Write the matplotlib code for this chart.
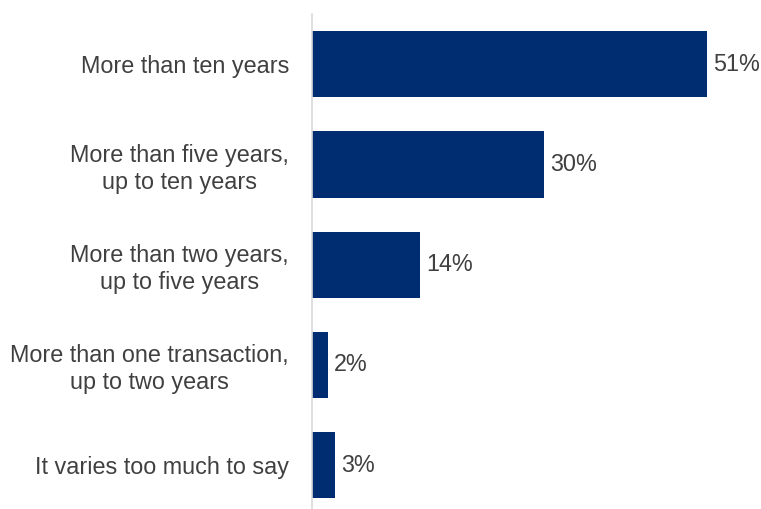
import matplotlib.pyplot as plt

plt.rcParams['font.family'] = ['Liberation Sans', 'DejaVu Sans']

categories = [
    'More than ten years',
    'More than five years,\nup to ten years',
    'More than two years,\nup to five years',
    'More than one transaction,\nup to two years',
    'It varies too much to say',
]
values = [51, 30, 14, 2, 3]

bar_color = '#002D72'
text_color = '#404040'

fig = plt.figure(figsize=(7.61, 5.09), dpi=100)
ax = fig.add_axes([0.41, -0.012, 0.57, 0.984])

ypos = list(range(len(categories)))
ax.barh(ypos, values, height=0.66, color=bar_color, zorder=2)

for y, v in zip(ypos, values):
    ax.text(v + 0.8, y, f'{v}%', va='center', ha='left',
            fontsize=16.8, color=text_color)

ax.set_xlim(0, 56)
ax.set_ylim(len(categories) - 0.5, -0.5)
ax.set_yticks(ypos)
ax.set_yticklabels(categories, fontsize=16.8, color=text_color)
for t in ax.get_yticklabels():
    t.set_multialignment('center')
ax.tick_params(axis='y', length=0, pad=16.5)
ax.set_xticks([])

for side in ['top', 'right', 'bottom']:
    ax.spines[side].set_visible(False)
ax.spines['left'].set_color('#D9D9D9')
ax.spines['left'].set_linewidth(1.2)
ax.spines['left'].set_zorder(3)

fig.savefig('out.png', dpi=100)
